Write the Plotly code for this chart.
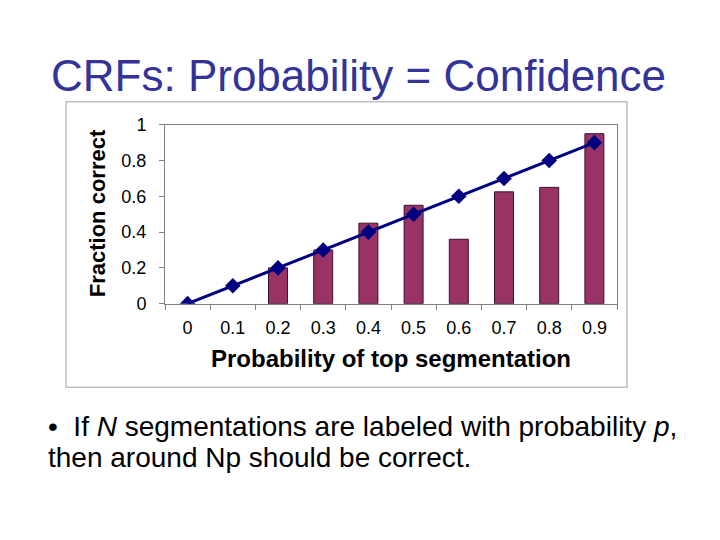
import plotly.graph_objects as go

# page body keeps an 8px margin, so the figure is 16px smaller than the window
OFF = 8
W, H = 720 - 2 * OFF, 540 - 2 * OFF

categories = ["0", "0.1", "0.2", "0.3", "0.4", "0.5", "0.6", "0.7", "0.8", "0.9"]
fraction_correct = [0, 0, 0.2, 0.3, 0.45, 0.55, 0.36, 0.625, 0.65, 0.95]
ideal = [0, 0.1, 0.2, 0.3, 0.4, 0.5, 0.6, 0.7, 0.8, 0.9]
y_ticks = [0, 0.2, 0.4, 0.6, 0.8, 1]
y_tick_text = ["0", "0.2", "0.4", "0.6", "0.8", "1"]


def px_x(x):
    return (x - OFF) / W


def px_y(y):
    return 1 - (y - OFF) / H


fig = go.Figure()
fig.add_trace(
    go.Bar(
        x=categories, y=fraction_correct, width=0.42,
        marker=dict(
            color="#993366",
            # empty bars get no outline, like the original
            line=dict(color="#3a1030", width=[1 if v > 0 else 0 for v in fraction_correct]),
        ),
    )
)
fig.add_trace(
    go.Scatter(
        x=categories, y=ideal, mode="lines+markers",
        line=dict(color="#000080", width=3),
        marker=dict(symbol="diamond", size=12, color="#000080"),
    )
)

fig.update_layout(
    width=W, height=H, showlegend=False,
    margin=dict(l=0, r=0, t=0, b=0),
    paper_bgcolor="white", plot_bgcolor="white",
    font=dict(family="Liberation Sans, Arial, sans-serif", color="black"),
    xaxis=dict(
        domain=[px_x(165), px_x(617)], range=[-0.5, 9.5],
        type="category", tickson="boundaries", ticks="outside", ticklen=5,
        tickcolor="#808080", showline=True, linecolor="#808080", mirror=True,
        tickfont=dict(size=18), ticklabelstandoff=8, showgrid=False,
    ),
    yaxis=dict(
        domain=[px_y(305), px_y(119)], range=[0, 1],
        tickvals=y_ticks, ticktext=y_tick_text,
        ticks="outside", ticklen=5, tickcolor="#808080",
        showline=True, linecolor="#808080", mirror=True,
        tickfont=dict(size=18), ticklabelstandoff=9, showgrid=False, zeroline=False,
    ),
    shapes=[
        dict(type="rect", xref="paper", yref="paper",
             x0=px_x(66), x1=px_x(627), y0=px_y(392), y1=px_y(95),
             line=dict(color="#c0c0c0", width=1.5)),
    ],
    annotations=[
        dict(text="CRFs: Probability = Confidence", xref="paper", yref="paper",
             x=px_x(358), y=px_y(68), showarrow=False, xanchor="center", yanchor="middle",
             font=dict(size=44, color="#333399")),
        dict(text="<b>Fraction correct</b>", xref="paper", yref="paper",
             x=px_x(97), y=px_y(211), showarrow=False, textangle=-90,
             xanchor="center", yanchor="middle", font=dict(size=22)),
        dict(text="<b>Probability of top segmentation</b>", xref="paper", yref="paper",
             x=px_x(391), y=px_y(362), showarrow=False,
             xanchor="center", yanchor="middle", font=dict(size=24)),
        dict(text="•  If <i>N</i> segmentations are labeled with probability <i>p</i>,",
             xref="paper", yref="paper", x=px_x(46), y=px_y(433), showarrow=False,
             xanchor="left", yanchor="middle", font=dict(size=28)),
        dict(text="then around Np should be correct.",
             xref="paper", yref="paper", x=px_x(46), y=px_y(465), showarrow=False,
             xanchor="left", yanchor="middle", font=dict(size=28)),
    ],
)

fig.write_html("out.html")
